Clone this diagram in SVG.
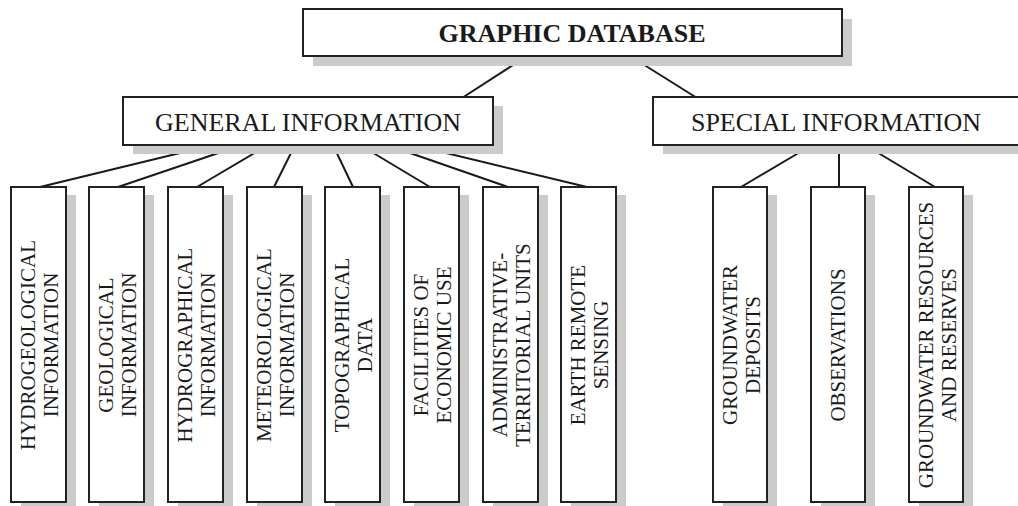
<svg xmlns="http://www.w3.org/2000/svg" width="1018" height="506" viewBox="0 0 1018 506">
<style>
.box{fill:#fff;stroke:#222;stroke-width:2}
.sh{fill:#cbcbcb}
.t{font-family:"Liberation Serif","Times New Roman",serif;fill:#1a1a1a}
.h{font-size:26px;text-anchor:middle}
.b{font-weight:bold}
.v{font-size:21px;text-anchor:middle}
#connectors line{stroke:#1a1a1a;stroke-width:2}
</style>
<rect width="1018" height="506" fill="#fff"/>
<g id="connectors">
<line x1="527" y1="56" x2="462" y2="98"/>
<line x1="630" y1="56" x2="697" y2="98"/>
<line x1="213" y1="145" x2="40" y2="187"/>
<line x1="242" y1="145" x2="118" y2="187"/>
<line x1="268" y1="145" x2="197" y2="187"/>
<line x1="295" y1="145" x2="274" y2="187"/>
<line x1="333" y1="145" x2="353" y2="187"/>
<line x1="360" y1="145" x2="430" y2="187"/>
<line x1="387" y1="145" x2="508" y2="187"/>
<line x1="413" y1="145" x2="587" y2="187"/>
<line x1="812" y1="145" x2="741" y2="187"/>
<line x1="839" y1="145" x2="839" y2="187"/>
<line x1="865" y1="145" x2="935" y2="187"/>
</g>
<g id="graphic-database">
<rect class="sh" x="313" y="19" width="539" height="47"/>
<rect class="box" x="303" y="9" width="539" height="47"/>
<text class="t h b" x="572" y="42">GRAPHIC DATABASE</text>
</g>
<g id="general-information">
<rect class="sh" x="133" y="106" width="370" height="48"/>
<rect class="box" x="123" y="97" width="370" height="48"/>
<text class="t h" x="308" y="131">GENERAL INFORMATION</text>
</g>
<g id="special-information">
<rect class="sh" x="663" y="106" width="370" height="48"/>
<rect class="box" x="653" y="97" width="370" height="48"/>
<text class="t h" x="836" y="131">SPECIAL INFORMATION</text>
</g>
<g id="hydrogeological">
<rect class="sh" x="21" y="195" width="55" height="315"/>
<rect class="box" x="11" y="187" width="55" height="315"/>
<text class="t v" transform="translate(38.5,345) rotate(-90)"><tspan x="0" y="-3.5">HYDROGEOLOGICAL</tspan><tspan x="0" y="19.5">INFORMATION</tspan></text>
</g>
<g id="geological">
<rect class="sh" x="99" y="195" width="55" height="315"/>
<rect class="box" x="89" y="187" width="55" height="315"/>
<text class="t v" transform="translate(116.5,345) rotate(-90)"><tspan x="0" y="-3.5">GEOLOGICAL</tspan><tspan x="0" y="19.5">INFORMATION</tspan></text>
</g>
<g id="hydrographical">
<rect class="sh" x="178" y="195" width="55" height="315"/>
<rect class="box" x="168" y="187" width="55" height="315"/>
<text class="t v" transform="translate(195.5,345) rotate(-90)"><tspan x="0" y="-3.5">HYDROGRAPHICAL</tspan><tspan x="0" y="19.5">INFORMATION</tspan></text>
</g>
<g id="meteorological">
<rect class="sh" x="257" y="195" width="55" height="315"/>
<rect class="box" x="247" y="187" width="55" height="315"/>
<text class="t v" transform="translate(274.5,345) rotate(-90)"><tspan x="0" y="-3.5">METEOROLOGICAL</tspan><tspan x="0" y="19.5">INFORMATION</tspan></text>
</g>
<g id="topographical">
<rect class="sh" x="335" y="195" width="55" height="315"/>
<rect class="box" x="325" y="187" width="55" height="315"/>
<text class="t v" transform="translate(352.5,345) rotate(-90)"><tspan x="0" y="-3.5">TOPOGRAPHICAL</tspan><tspan x="0" y="19.5">DATA</tspan></text>
</g>
<g id="facilities">
<rect class="sh" x="414" y="195" width="55" height="315"/>
<rect class="box" x="404" y="187" width="55" height="315"/>
<text class="t v" transform="translate(431.5,345) rotate(-90)"><tspan x="0" y="-3.5">FACILITIES OF</tspan><tspan x="0" y="19.5">ECONOMIC USE</tspan></text>
</g>
<g id="administrative">
<rect class="sh" x="493" y="195" width="55" height="315"/>
<rect class="box" x="483" y="187" width="55" height="315"/>
<text class="t v" transform="translate(510.5,345) rotate(-90)"><tspan x="0" y="-3.5">ADMINISTRATIVE-</tspan><tspan x="0" y="19.5">TERRITORIAL UNITS</tspan></text>
</g>
<g id="earth-remote-sensing">
<rect class="sh" x="571" y="195" width="55" height="315"/>
<rect class="box" x="561" y="187" width="55" height="315"/>
<text class="t v" transform="translate(588.5,345) rotate(-90)"><tspan x="0" y="-3.5">EARTH REMOTE</tspan><tspan x="0" y="19.5">SENSING</tspan></text>
</g>
<g id="groundwater-deposits">
<rect class="sh" x="723" y="195" width="54" height="315"/>
<rect class="box" x="713" y="187" width="54" height="315"/>
<text class="t v" transform="translate(740,345) rotate(-90)"><tspan x="0" y="-3.5">GROUNDWATER</tspan><tspan x="0" y="19.5">DEPOSITS</tspan></text>
</g>
<g id="observations">
<rect class="sh" x="821" y="195" width="54" height="315"/>
<rect class="box" x="811" y="187" width="54" height="315"/>
<text class="t v" transform="translate(838,345) rotate(-90)"><tspan x="0" y="7">OBSERVATIONS</tspan></text>
</g>
<g id="groundwater-resources">
<rect class="sh" x="919" y="195" width="54" height="315"/>
<rect class="box" x="909" y="187" width="54" height="315"/>
<text class="t v" transform="translate(936,345) rotate(-90)"><tspan x="0" y="-3.5">GROUNDWATER RESOURCES</tspan><tspan x="0" y="19.5">AND RESERVES</tspan></text>
</g>
</svg>
